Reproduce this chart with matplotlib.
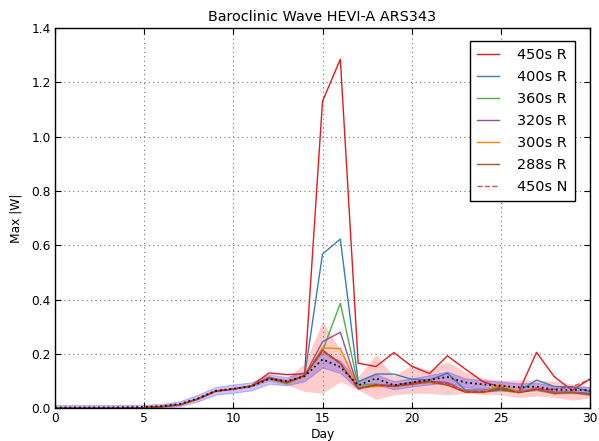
import matplotlib
matplotlib.use("Agg")
import matplotlib.pyplot as plt
import numpy as np

days = list(range(31))

early = [0.0, 0.0, 0.0, 0.0, 0.001, 0.002, 0.006, 0.013, 0.034, 0.063, 0.071, 0.082]

r450 = early + [0.130, 0.124, 0.127, 1.130, 1.285, 0.166, 0.154, 0.205, 0.155, 0.128,
                0.193, 0.145, 0.098, 0.077, 0.059, 0.206, 0.116, 0.066, 0.108]
r400 = early + [0.110, 0.092, 0.121, 0.568, 0.623, 0.098, 0.126, 0.126, 0.107, 0.104,
                0.129, 0.068, 0.067, 0.076, 0.062, 0.104, 0.080, 0.079, 0.062]
r360 = early + [0.110, 0.090, 0.120, 0.210, 0.387, 0.085, 0.090, 0.080, 0.090, 0.095,
                0.090, 0.060, 0.060, 0.065, 0.058, 0.068, 0.055, 0.058, 0.052]
r320 = early + [0.115, 0.098, 0.120, 0.245, 0.280, 0.075, 0.086, 0.085, 0.095, 0.100,
                0.095, 0.064, 0.060, 0.070, 0.060, 0.075, 0.060, 0.060, 0.055]
r300 = early + [0.112, 0.094, 0.121, 0.222, 0.220, 0.075, 0.080, 0.082, 0.090, 0.096,
                0.088, 0.062, 0.060, 0.088, 0.060, 0.072, 0.053, 0.058, 0.048]
r288 = early + [0.112, 0.094, 0.121, 0.215, 0.165, 0.075, 0.085, 0.082, 0.088, 0.097,
                0.085, 0.060, 0.058, 0.075, 0.058, 0.070, 0.055, 0.058, 0.050]
n450 = early + [0.110, 0.095, 0.120, 0.210, 0.165, 0.072, 0.085, 0.080, 0.090, 0.100,
                0.090, 0.060, 0.062, 0.070, 0.058, 0.070, 0.070, 0.080, 0.105]

mean = [0.003, 0.003, 0.003, 0.003, 0.004, 0.005, 0.008, 0.016, 0.036, 0.064, 0.072, 0.080,
        0.108, 0.100, 0.118, 0.180, 0.152, 0.085, 0.110, 0.085, 0.095, 0.105, 0.115, 0.095,
        0.088, 0.083, 0.077, 0.080, 0.068, 0.068, 0.066]
band_lo = [0.0, 0.0, 0.0, 0.0, 0.0, 0.0, 0.002, 0.008, 0.025, 0.050, 0.057, 0.066,
           0.090, 0.085, 0.100, 0.150, 0.130, 0.070, 0.088, 0.070, 0.080, 0.088, 0.095, 0.078,
           0.072, 0.068, 0.062, 0.066, 0.055, 0.055, 0.054]
band_hi = [0.012, 0.012, 0.012, 0.012, 0.012, 0.013, 0.016, 0.026, 0.050, 0.078, 0.088, 0.095,
           0.125, 0.115, 0.135, 0.205, 0.175, 0.100, 0.125, 0.100, 0.110, 0.122, 0.135, 0.110,
           0.104, 0.098, 0.092, 0.094, 0.082, 0.082, 0.078]
pink_lo = [0.0, 0.0, 0.0, 0.0, 0.0, 0.0, 0.004, 0.011, 0.031, 0.060, 0.068, 0.078,
           0.100, 0.085, 0.062, 0.055, 0.098, 0.068, 0.033, 0.050, 0.055, 0.055, 0.050, 0.055,
           0.050, 0.050, 0.040, 0.045, 0.040, 0.030, 0.038]
pink_hi = [0.002, 0.002, 0.002, 0.002, 0.003, 0.004, 0.008, 0.015, 0.036, 0.065, 0.074, 0.085,
           0.115, 0.110, 0.165, 0.320, 0.215, 0.117, 0.197, 0.118, 0.160, 0.140, 0.172, 0.135,
           0.110, 0.104, 0.104, 0.104, 0.100, 0.090, 0.080]

labels = ["450s R", "400s R", "360s R", "320s R", "300s R", "288s R", "450s N"]
colors = ["#e41a1c", "#377eb8", "#4daf4a", "#984ea3", "#ff7f00", "#a65628", "#e41a1c"]
series = [r450, r400, r360, r320, r300, r288, n450]

plt.rcParams['font.family'] = ['DejaVu Sans']
fig = plt.figure(figsize=(5.99, 4.41), dpi=100, facecolor='white')
ax = fig.add_axes([55/599, 1-408.3/441, 535/599, 380.3/441])

ax.fill_between(days, pink_lo, pink_hi, color='red', alpha=0.2, linewidth=0)
ax.fill_between(days, band_lo, band_hi, color='blue', alpha=0.22, linewidth=0.8,
                edgecolor=(0, 0, 1, 0.12))

for s, c, l in zip(series, colors, labels):
    if l == "450s N":
        ax.plot(days, s, color=c, lw=1.0, ls='--', alpha=0.8, label=l)
    else:
        ax.plot(days, s, color=c, lw=1.0, label=l)
ax.plot(days, mean, color='k', lw=1.3, ls=':')

ax.set_xlim(0, 30)
ax.set_ylim(0, 1.4)
ax.set_xticks(range(0, 31, 5))
ax.set_yticks(np.arange(0, 1.41, 0.2))
ax.set_yticklabels([f"{v:.1f}" for v in np.arange(0, 1.41, 0.2)])
ax.grid(True, color='0.45', ls=(0, (1, 3)), lw=0.8)
ax.tick_params(direction='in', labelsize=8.8, top=True, right=True, length=4, pad=3)
for sp in ax.spines.values():
    sp.set_linewidth(1.0)

ax.set_title("Baroclinic Wave HEVI-A ARS343", fontsize=10.4, pad=5)
ax.set_xlabel("Day", fontsize=8.8, labelpad=2)
ax.set_ylabel("Max |W|", fontsize=8.8, labelpad=6)

leg = ax.legend(loc='upper right', bbox_to_anchor=((575-55)/535, (408.3-41)/380.3),
                borderaxespad=0, fontsize=10.4, fancybox=False, framealpha=1,
                edgecolor='k', handlelength=1.5, handletextpad=1.3, labelspacing=0.55,
                borderpad=0.5)
leg.get_frame().set_linewidth(1.0)

fig.savefig("out.png", dpi=100, facecolor='white')
